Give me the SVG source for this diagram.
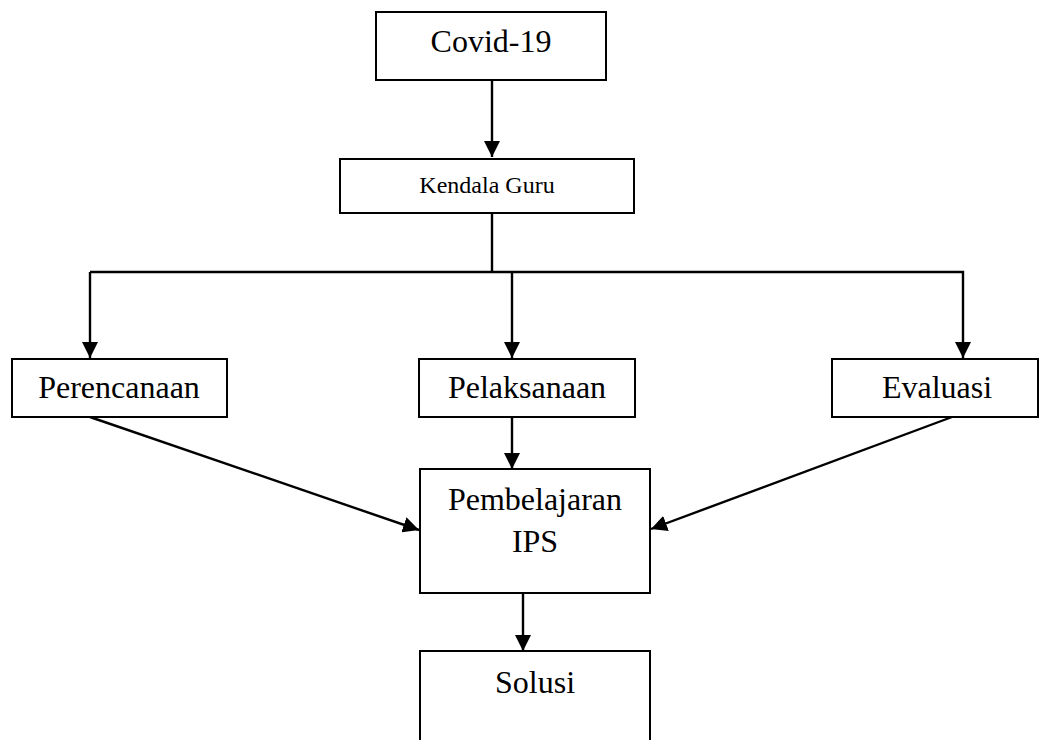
<svg xmlns="http://www.w3.org/2000/svg" width="1039" height="740" viewBox="0 0 1039 740">
<defs>
<style>
.box{fill:#fff;stroke:#000;stroke-width:2}
.t{font-family:"Liberation Serif","Times New Roman",serif;fill:#000;text-anchor:middle}
.big{font-size:32px}
.small{font-size:24px}
.c{fill:none;stroke:#000;stroke-width:2.4}
</style>
<marker id="ah" markerUnits="userSpaceOnUse" markerWidth="16" markerHeight="16" refX="16" refY="8" orient="auto" viewBox="0 0 16 16">
<path d="M0,0 L16,8 L0,16 z" fill="#000"/>
</marker>
</defs>
<rect width="1039" height="740" fill="#fff"/>
<g id="connectors">
<line class="c" x1="492" y1="80" x2="492" y2="157" marker-end="url(#ah)"/>
<polyline class="c" points="492,213 492,272"/>
<polyline class="c" points="90,272 963,272 963,358" marker-end="url(#ah)"/>
<line class="c" x1="90" y1="272" x2="90" y2="358" marker-end="url(#ah)"/>
<line class="c" x1="512" y1="272" x2="512" y2="358" marker-end="url(#ah)"/>
<line class="c" x1="512" y1="417" x2="512" y2="469" marker-end="url(#ah)"/>
<line class="c" x1="90" y1="417" x2="419" y2="530" marker-end="url(#ah)"/>
<line class="c" x1="952" y1="417" x2="651" y2="529" marker-end="url(#ah)"/>
<line class="c" x1="523" y1="593" x2="523" y2="651" marker-end="url(#ah)"/>
</g>
<g id="covid">
<rect class="box" x="376" y="12" width="230" height="68"/>
<text class="t big" x="491" y="52">Covid-19</text>
</g>
<g id="kendala">
<rect class="box" x="340" y="159" width="294" height="54"/>
<text class="t small" x="487" y="193">Kendala Guru</text>
</g>
<g id="perencanaan">
<rect class="box" x="12" y="359" width="215" height="58"/>
<text class="t big" x="119" y="398">Perencanaan</text>
</g>
<g id="pelaksanaan">
<rect class="box" x="419" y="359" width="216" height="58"/>
<text class="t big" x="527" y="398">Pelaksanaan</text>
</g>
<g id="evaluasi">
<rect class="box" x="832" y="359" width="206" height="58"/>
<text class="t big" x="937" y="398">Evaluasi</text>
</g>
<g id="pembelajaran">
<rect class="box" x="420" y="469" width="230" height="124"/>
<text class="t big" x="535" y="510">Pembelajaran</text>
<text class="t big" x="535" y="552">IPS</text>
</g>
<g id="solusi">
<rect class="box" x="420" y="651" width="230" height="110"/>
<text class="t big" x="535" y="693">Solusi</text>
</g>
</svg>
